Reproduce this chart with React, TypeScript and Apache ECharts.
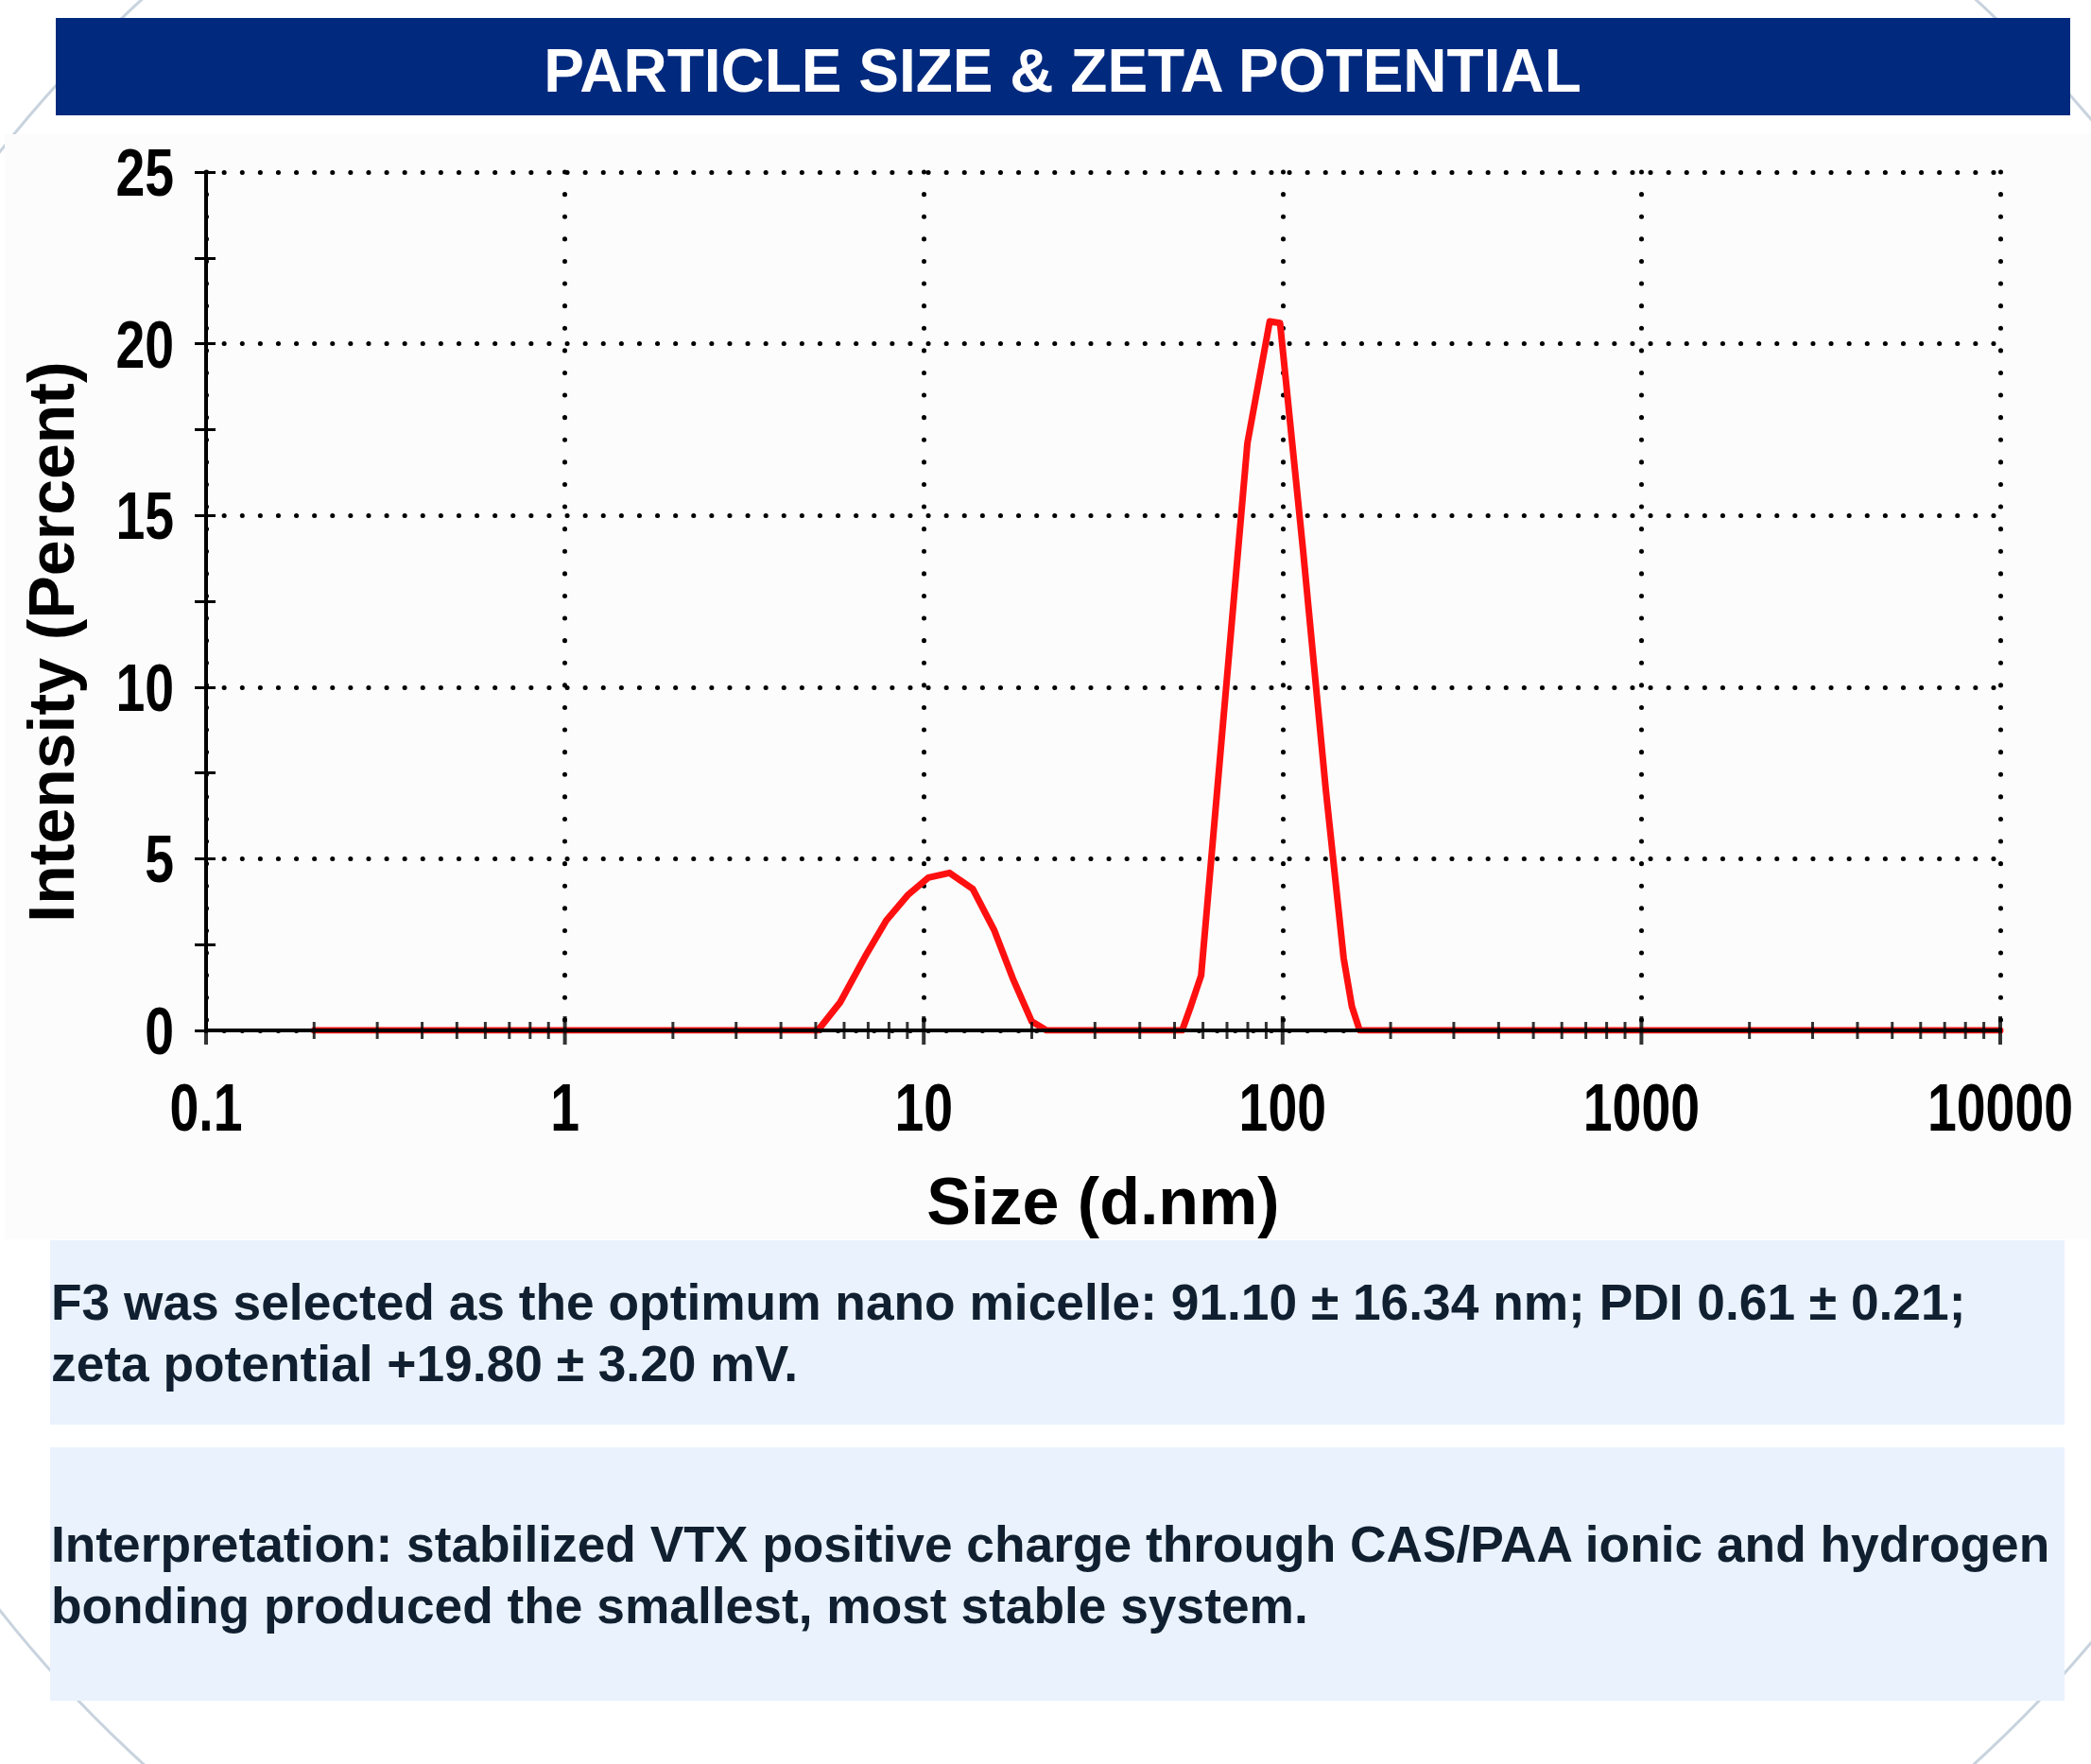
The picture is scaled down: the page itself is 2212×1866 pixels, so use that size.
import React, { useEffect, useRef } from "react";
import * as echarts from "echarts";

const TITLE = "PARTICLE SIZE & ZETA POTENTIAL";
const X_NAME = "Size (d.nm)";
const Y_NAME = "Intensity (Percent)";

// particle size (d.nm) and intensity (%)
const SIZE_NM = [0.2, 5.07, 5.85, 6.87, 7.87, 9.02, 10.3, 11.8, 13.7, 15.7, 17.7, 20.0, 22.0, 52.5, 55.4, 59.3, 68.7, 79.8, 92.1, 98.4, 114, 132, 148, 156, 164, 10000];
const INTENSITY = [0, 0, 0.82, 2.16, 3.21, 3.94, 4.45, 4.59, 4.12, 2.93, 1.52, 0.26, 0, 0, 0.68, 1.6, 9.3, 17.1, 20.65, 20.6, 14.0, 7.0, 2.1, 0.7, 0, 0];

const X_DECADES = [0.1, 1, 10, 100, 1000, 10000];
const Y_TICKS = [0, 5, 10, 15, 20, 25];
const Y_MIN = 0;
const Y_MAX = 25;
const Y_STEP = 5;

const NOTE_1 = [
  "F3 was selected as the optimum nano micelle: 91.10 \u00b1 16.34 nm; PDI 0.61 \u00b1 0.21;",
  "zeta potential +19.80 \u00b1 3.20 mV.",
];
const NOTE_2 = [
  "Interpretation: stabilized VTX positive charge through CAS/PAA ionic and hydrogen",
  "bonding produced the smallest, most stable system.",
];

const SANS = "'Liberation Sans', Arial, sans-serif";

const MINOR_TICKS: number[] = [];
X_DECADES.slice(0, -1).forEach((d) => {
  for (let k = 2; k <= 9; k++) MINOR_TICKS.push(k * d);
});

const fmtX = (v: number) => (v < 1 ? v.toFixed(1) : String(Math.round(v)));

export default function App() {
  const ref = useRef<HTMLDivElement>(null);
  useEffect(() => {
    document.body.style.margin = "0";
    const chart = echarts.init(ref.current!, null, { renderer: "svg" });
    const dotted = (gap: number) => ({
      color: "#000",
      width: 5,
      type: [0.1, gap],
      cap: "round",
    });
    const tickStyle = { color: "#000", width: 3 };
    const labelFont = `bold 71px ${SANS}`;
    const option: any = {
      animation: false,
      backgroundColor: "#ffffff",
      graphic: [
        {
          type: "ellipse",
          silent: true,
          z: -10,
          shape: { cx: 1120, cy: 932, rx: 1390, ry: 1302 },
          style: { fill: "none", stroke: "#c8d3de", lineWidth: 3 },
        },
        {
          type: "rect",
          silent: true,
          z: -5,
          shape: { x: 5, y: 142, width: 2207, height: 1169 },
          style: { fill: "#fcfcfc" },
        },
        {
          type: "rect",
          silent: true,
          shape: { x: 59, y: 19, width: 2131, height: 103 },
          style: { fill: "#012a7f" },
        },
        {
          type: "text",
          silent: true,
          x: 1124,
          y: 75,
          style: {
            text: TITLE,
            fill: "#ffffff",
            font: `bold 64px ${SANS}`,
            align: "center",
            verticalAlign: "middle",
          },
        },
        {
          type: "rect",
          silent: true,
          shape: { x: 53, y: 1312, width: 2131, height: 195 },
          style: { fill: "#eaf2fe" },
        },
        {
          type: "text",
          silent: true,
          x: 54,
          y: 1410,
          style: {
            text: NOTE_1.join("\n"),
            fill: "#112030",
            font: `bold 53.3px ${SANS}`,
            lineHeight: 65,
            align: "left",
            verticalAlign: "middle",
          },
        },
        {
          type: "rect",
          silent: true,
          shape: { x: 53, y: 1531, width: 2131, height: 268 },
          style: { fill: "#eaf2fe" },
        },
        {
          type: "text",
          silent: true,
          x: 54,
          y: 1666,
          style: {
            text: NOTE_2.join("\n"),
            fill: "#112030",
            font: `bold 53.3px ${SANS}`,
            lineHeight: 65,
            align: "left",
            verticalAlign: "middle",
          },
        },
      ],
      grid: {
        left: 218,
        top: 182,
        width: 1898,
        height: 908,
        containLabel: false,
        outerBoundsMode: "none",
      },
      xAxis: [
        {
          type: "log",
          logBase: 10,
          min: X_DECADES[0],
          max: X_DECADES[X_DECADES.length - 1],
          splitNumber: 5,
          position: "bottom",
          z: 5,
          axisLine: { show: true, onZero: false, lineStyle: { color: "#000", width: 4 } },
          axisTick: { show: false },
          minorTick: { show: false },
          splitLine: { show: false },
          axisLabel: { show: false },
          name: X_NAME,
          nameLocation: "middle",
          nameGap: 146,
          nameTextStyle: {
            color: "#000",
            fontFamily: SANS,
            fontWeight: "bold",
            fontSize: 70,
            lineHeight: 70,
          },
        },
        {
          type: "log",
          logBase: 10,
          min: X_DECADES[0],
          max: X_DECADES[X_DECADES.length - 1],
          splitNumber: 5,
          position: "bottom",
          z: 0,
          axisLine: { show: false },
          axisTick: { show: false },
          axisLabel: { show: false },
          splitLine: { show: true, lineStyle: dotted(23.5) },
        },
      ],
      yAxis: [
        {
          type: "value",
          min: Y_MIN,
          max: Y_MAX,
          interval: Y_STEP,
          position: "left",
          axisLine: { show: true, lineStyle: { color: "#000", width: 4 } },
          axisTick: { show: true, length: 12, lineStyle: tickStyle },
          minorTick: { show: true, splitNumber: 2, length: 12, lineStyle: tickStyle },
          splitLine: { show: true, lineStyle: dotted(19) },
          axisLabel: { show: false },
          name: Y_NAME,
          nameLocation: "middle",
          nameRotate: 90,
          nameGap: 130,
          nameTextStyle: {
            color: "#000",
            fontFamily: SANS,
            fontWeight: "bold",
            fontSize: 68,
            padding: [0, 86, 0, 0],
          },
        },
        {
          type: "value",
          min: Y_MIN,
          max: Y_MAX,
          interval: Y_STEP,
          position: "left",
          offset: 0,
          axisLine: { show: false },
          axisTick: { show: true, inside: true, length: 10, lineStyle: tickStyle },
          minorTick: { show: true, splitNumber: 2, length: 10, lineStyle: tickStyle },
          splitLine: { show: false },
          axisLabel: { show: false },
        },
      ],
      series: [
        {
          type: "line",
          xAxisIndex: 0,
          yAxisIndex: 0,
          data: SIZE_NM.map((s, i) => [s, INTENSITY[i]]),
          showSymbol: false,
          symbol: "none",
          smooth: false,
          silent: true,
          z: 2,
          lineStyle: { color: "#ff1010", width: 7, join: "round", cap: "round" },
        },
        {
          type: "scatter",
          xAxisIndex: 0,
          yAxisIndex: 0,
          data: X_DECADES.map((v) => [v, 0]),
          symbol: "rect",
          symbolSize: [4, 30],
          itemStyle: { color: "#000" },
          clip: false,
          silent: true,
          z: 6,
        },
        {
          type: "scatter",
          xAxisIndex: 0,
          yAxisIndex: 0,
          data: MINOR_TICKS.map((v) => [v, 0]),
          symbol: "rect",
          symbolSize: [3, 18],
          itemStyle: { color: "#000" },
          clip: false,
          silent: true,
          z: 6,
        },
        {
          // x-axis tick labels (condensed look)
          type: "custom",
          xAxisIndex: 0,
          yAxisIndex: 0,
          data: X_DECADES.map((v) => [v, 0]),
          clip: false,
          silent: true,
          z: 6,
          renderItem: (_p: any, api: any) => {
            const v = api.value(0);
            const pt = api.coord([v, 0]);
            return {
              type: "text",
              x: pt[0],
              y: pt[1] + 81,
              scaleX: 0.78,
              style: {
                text: fmtX(v),
                fill: "#000",
                font: labelFont,
                align: "center",
                verticalAlign: "middle",
              },
            };
          },
        },
        {
          // y-axis tick labels (condensed look)
          type: "custom",
          xAxisIndex: 0,
          yAxisIndex: 0,
          data: Y_TICKS.map((v) => [X_DECADES[0], v]),
          clip: false,
          silent: true,
          z: 6,
          renderItem: (_p: any, api: any) => {
            const v = api.value(1);
            const pt = api.coord([api.value(0), v]);
            return {
              type: "text",
              x: pt[0] - 34,
              y: pt[1],
              scaleX: 0.78,
              style: {
                text: String(v),
                fill: "#000",
                font: labelFont,
                align: "right",
                verticalAlign: "middle",
              },
            };
          },
        },
      ],
    };
    chart.setOption(option);
    return () => chart.dispose();
  }, []);
  return <div ref={ref} style={{ width: 2212, height: 1866 }} />;
}
